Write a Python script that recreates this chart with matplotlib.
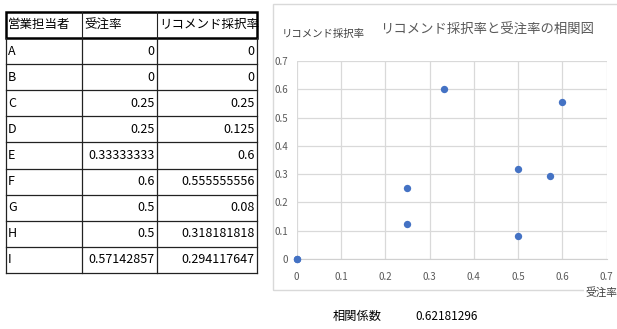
import matplotlib
matplotlib.use("Agg")
import matplotlib.pyplot as plt
from matplotlib.lines import Line2D
from matplotlib.patches import Rectangle

plt.rcParams['font.family'] = ['Noto Sans CJK JP', 'DejaVu Sans']

# ---- data ----
headers = ["営業担当者", "受注率", "リコメンド採択率"]
reps = ["A", "B", "C", "D", "E", "F", "G", "H", "I"]
order_rate = ["0", "0", "0.25", "0.25", "0.33333333", "0.6", "0.5", "0.5", "0.57142857"]
adopt_rate = ["0", "0", "0.25", "0.125", "0.6", "0.555555556", "0.08", "0.318181818", "0.294117647"]
corr_label = "相関係数"
corr_value = "0.62181296"
title = "リコメンド採択率と受注率の相関図"
xlabel = "受注率"
ylabel = "リコメンド採択率"
ticks = [0, 0.1, 0.2, 0.3, 0.4, 0.5, 0.6, 0.7]

W, H = 617, 329
fig = plt.figure(figsize=(W / 100, H / 100), dpi=100)
fig.patch.set_facecolor("white")


def fx(px):
    return px / W


def fy(py):
    return 1 - py / H


def hline(x0, x1, y, lw=1.0, color="#222222"):
    fig.add_artist(Line2D([fx(x0), fx(x1)], [fy(y), fy(y)], lw=lw, color=color,
                          transform=fig.transFigure))


def vline(x, y0, y1, lw=1.0, color="#222222"):
    fig.add_artist(Line2D([fx(x), fx(x)], [fy(y0), fy(y1)], lw=lw, color=color,
                          transform=fig.transFigure))


# ---- table ----
col_x = [5.7, 82, 157, 257]
top = 11.7
hdr_bottom = 38
row_h = (273 - hdr_bottom) / len(reps)
row_y = [hdr_bottom + i * row_h for i in range(len(reps) + 1)]

for y in row_y[1:]:
    hline(col_x[0], col_x[-1], y, lw=0.9)
for x in col_x:
    vline(x, hdr_bottom, row_y[-1], lw=0.9)
for x in col_x[1:-1]:
    vline(x, top, hdr_bottom, lw=0.8)
fig.add_artist(Rectangle((fx(col_x[0]), fy(hdr_bottom)), fx(col_x[-1] - col_x[0]),
                         (hdr_bottom - top) / H, fill=False, lw=1.8, ec="black",
                         transform=fig.transFigure))

tfs = 9
for j, h in enumerate(headers):
    fig.text(fx(col_x[j] + 2.5), fy((top + hdr_bottom) / 2), h, fontsize=tfs,
             ha="left", va="center", color="black")
for i, r in enumerate(reps):
    yc = fy((row_y[i] + row_y[i + 1]) / 2)
    fig.text(fx(col_x[0] + 2.5), yc, r, fontsize=tfs, ha="left", va="center")
    fig.text(fx(col_x[2] - 2.5), yc, order_rate[i], fontsize=tfs, ha="right", va="center")
    fig.text(fx(col_x[3] - 2.5), yc, adopt_rate[i], fontsize=tfs, ha="right", va="center")

# ---- chart frame ----
fig.add_artist(Rectangle((fx(272.7), fy(289.5)), fx(W + 10 - 272.7), (289.5 - 4) / H,
                         fill=False, lw=1.0, ec="#d9d9d9", transform=fig.transFigure))

# ---- scatter ----
ax = fig.add_axes([fx(296.7), fy(259), fx(606.7 - 296.7), (259 - 61) / H])
xs = [float(v) for v in order_rate]
ys = [float(v) for v in adopt_rate]
ax.scatter(xs, ys, s=28, color="#4472C4", zorder=3, clip_on=False, linewidths=0)
ax.set_xlim(0, 0.7)
ax.set_ylim(0, 0.7)
ax.set_xticks(ticks)
ax.set_yticks(ticks)
ax.set_xticklabels([f"{t:g}" for t in ticks])
ax.set_yticklabels([f"{t:g}" for t in ticks])
ax.grid(True, color="#d9d9d9", lw=0.9)
ax.set_axisbelow(True)
for s in ["top", "right", "left"]:
    ax.spines[s].set_visible(False)
ax.spines["bottom"].set_color("#d0d0d0")
ax.tick_params(length=0, labelsize=7, colors="#595959", pad=6)
ax.tick_params(axis="x", pad=9)

fig.text(fx(282), fy(34), ylabel, fontsize=7.5, color="#404040", ha="left", va="center")
fig.text(fx(380), fy(30), title, fontsize=9.6, color="#595959", ha="left", va="center")
fig.text(fx(585), fy(292), xlabel, fontsize=7.7, color="#404040", ha="left", va="center",
         bbox=dict(boxstyle="square,pad=0.1", fc="white", ec="none"))

# ---- correlation ----
fig.text(fx(333), fy(316), corr_label, fontsize=8.8, ha="left", va="center")
fig.text(fx(415), fy(316), corr_value, fontsize=8.5, ha="left", va="center")

fig.savefig("out.png", dpi=100)
